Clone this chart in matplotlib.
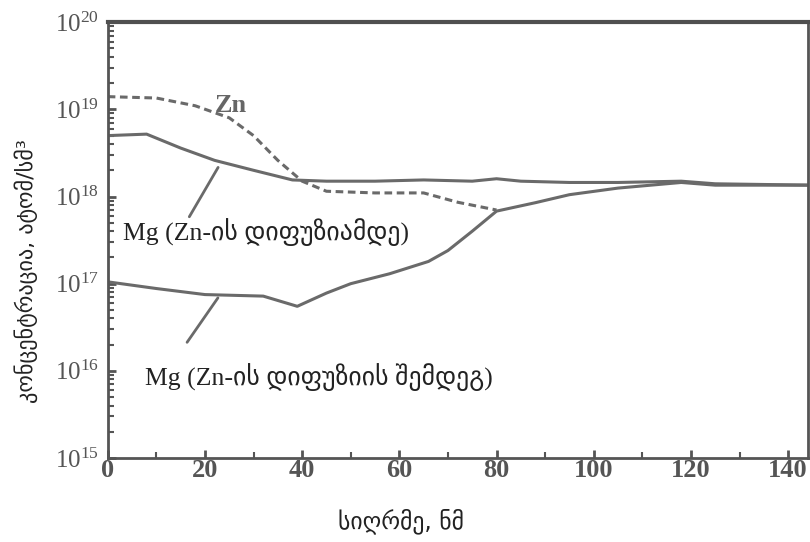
import numpy as np
import matplotlib
matplotlib.use("Agg")
import matplotlib.pyplot as plt
from matplotlib.ticker import MultipleLocator, LogLocator

plt.rcParams['font.family'] = ['Liberation Serif', 'DejaVu Sans']
plt.rcParams['mathtext.fontset'] = 'stix'

# depth (nm) and concentration (atoms/cm^3)
zn_x = [0, 10, 18, 25, 30, 35, 40, 45, 55, 65, 72, 80]
zn_y = [1.4e19, 1.35e19, 1.1e19, 8.0e18, 5.0e18, 2.6e18, 1.5e18, 1.15e18, 1.1e18, 1.1e18, 8.6e17, 7.0e17]

mg_before_x = [0, 8, 15, 22, 30, 38, 45, 55, 65, 75, 80, 85, 95, 105, 118, 125, 145]
mg_before_y = [5.0e18, 5.2e18, 3.6e18, 2.6e18, 2.0e18, 1.55e18, 1.5e18, 1.5e18, 1.55e18, 1.5e18, 1.6e18, 1.5e18, 1.45e18, 1.45e18, 1.5e18, 1.4e18, 1.35e18]

mg_after_x = [0, 10, 20, 32, 39, 45, 50, 58, 66, 70, 75, 80, 88, 95, 105, 118, 125, 145]
mg_after_y = [1.05e17, 8.8e16, 7.5e16, 7.2e16, 5.5e16, 7.8e16, 1.0e17, 1.3e17, 1.8e17, 2.4e17, 4.0e17, 6.8e17, 8.5e17, 1.05e18, 1.25e18, 1.45e18, 1.35e18, 1.35e18]

x_ticks = [0, 20, 40, 60, 80, 100, 120, 140]

fig = plt.figure(figsize=(8.1, 5.42), dpi=100)
ax = fig.add_axes([0.133, 0.155, 0.864, 0.804])

line_col = '#6a6a6a'
ax.plot(zn_x, zn_y, color=line_col, lw=2.2, ls=(0, (2.5, 1.5)))
ax.plot(mg_before_x, mg_before_y, color=line_col, lw=2.2)
ax.plot(mg_after_x, mg_after_y, color=line_col, lw=2.2)

ax.set_yscale('log')
ax.set_xlim(0, 144)
ax.set_ylim(1e15, 1e20)
ax.set_xticks(x_ticks)
ax.xaxis.set_minor_locator(MultipleLocator(10))
ax.yaxis.set_major_locator(LogLocator(base=10, numticks=10))
ax.yaxis.set_minor_locator(LogLocator(base=10, subs=np.arange(2, 10), numticks=20))

for side in ['left', 'bottom', 'right']:
    ax.spines[side].set_color('#555555')
    ax.spines[side].set_linewidth(2)
ax.spines['top'].set_color('#505050')
ax.spines['top'].set_linewidth(3)

ax.tick_params(which='both', direction='in', color='#555555')
ax.tick_params(which='major', length=6, width=2)
ax.tick_params(which='minor', length=4, width=1.5)
ax.tick_params(axis='x', labelsize=19, labelcolor='#555555', pad=1)
ax.tick_params(axis='y', labelsize=18, labelcolor='#555555', pad=6)
for lbl in ax.get_xticklabels():
    lbl.set_fontweight('bold')

ax.set_xlabel('სიღრმე, ნმ', family='DejaVu Sans', fontsize=17, color='#222222')
ax.xaxis.set_label_coords(0.419, -0.115)
ax.set_ylabel('კონცენტრაცია, ატომ/სმ³', family='DejaVu Sans', fontsize=16, color='#222222')
ax.yaxis.set_label_coords(-0.1, 0.43)

ax.text(22, 1.12e19, 'Zn', fontsize=19, fontweight='bold', color='#666666', va='center')
ax.text(3.1, 3.9e17, 'Mg (Zn-ის დიფუზიამდე)', fontsize=18.5, color='#222222', va='center')
ax.text(7.6, 8.5e15, 'Mg (Zn-ის დიფუზიის შემდეგ)', fontsize=18.5, color='#222222', va='center')

# pointer lines to the Mg curves
ax.annotate('', xy=(23, 2.3e18), xytext=(16.5, 5.5e17),
            arrowprops=dict(arrowstyle='-', color=line_col, lw=2))
ax.annotate('', xy=(23, 7.3e16), xytext=(16, 2.0e16),
            arrowprops=dict(arrowstyle='-', color=line_col, lw=2))

fig.savefig('out.png', dpi=100)
